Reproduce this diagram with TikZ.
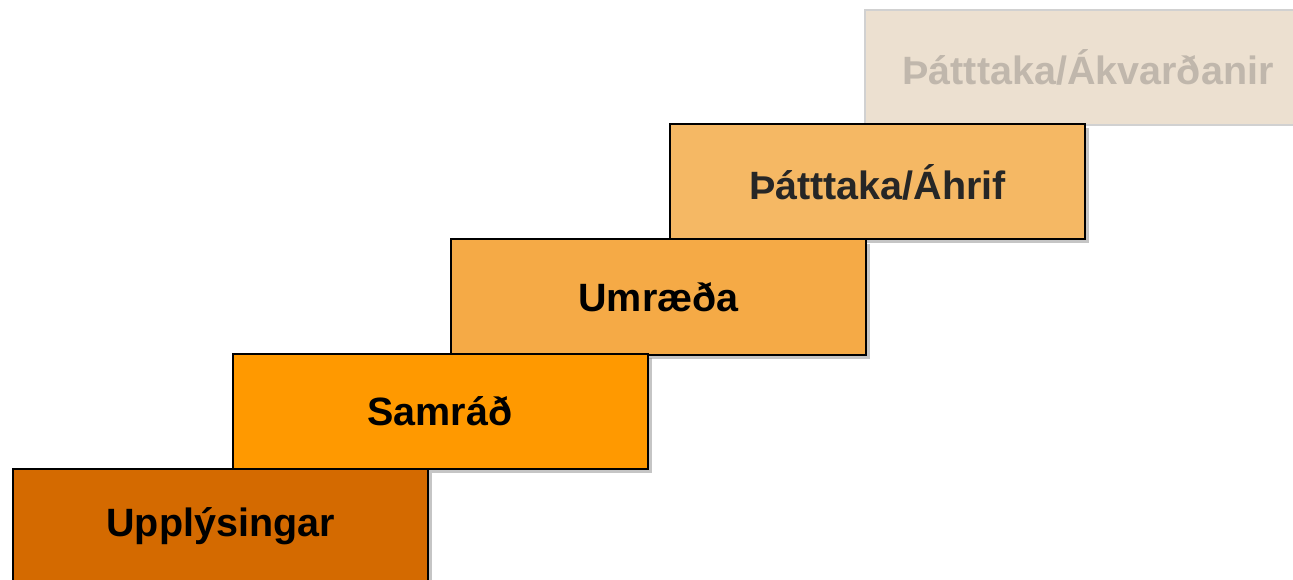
\documentclass[tikz,border=0pt]{standalone}
\usepackage{fontspec}
\setmainfont{Liberation Sans}
\usetikzlibrary{shadows}
\definecolor{stepA}{RGB}{212,106,0}
\definecolor{stepB}{RGB}{255,153,0}
\definecolor{stepC}{RGB}{245,170,70}
\definecolor{stepD}{RGB}{245,184,100}
\definecolor{stepE}{RGB}{236,224,208}
\definecolor{fadetxt}{RGB}{192,183,172}
\tikzset{stair/.style = {draw, line width=2pt, rectangle, minimum height=115pt, minimum width=415pt,
                          font=\fontsize{39.5}{42}\selectfont\bfseries,
                          drop shadow={shadow xshift=4pt, shadow yshift=-4pt, fill=black!45}},
         faded/.style = {draw=black!18, line width=1.5pt, rectangle, minimum height=115pt, minimum width=446pt,
                          font=\fontsize{39.5}{42}\selectfont\bfseries, text=fadetxt, fill=stepE}}

\begin{document}
\begin{tikzpicture}[x=1pt,y=-1pt]
        \useasboundingbox (0,0) rectangle (1293,580);
        \node[faded](akv)at(1088,67.5){Þátttaka/Ákvarðanir};
        \node[stair,fill=stepD,text=black!85](ahrif)at(877.5,182){Þátttaka/Áhrif};
        \node[stair,fill=stepC](umr)at(658.5,297){Umræða};
        \node[stair,fill=stepB](samr)at(440,411){Samráð};
        \node[stair,fill=stepA](upp)at(220.5,526.5){Upplýsingar};
    \end{tikzpicture}
\end{document}
